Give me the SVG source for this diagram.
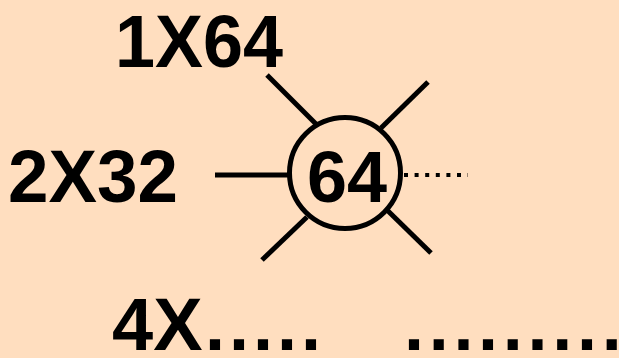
<svg xmlns="http://www.w3.org/2000/svg" width="619" height="358" viewBox="0 0 619 358">
<style>
.t{font-family:"Liberation Sans",Arial,sans-serif;font-weight:bold;font-size:72px;fill:#000}
.ln{stroke:#000;stroke-width:5;fill:none}
</style>
<rect width="619" height="358" fill="#FFDEBF"/>
<g id="connectors">
<line class="ln" x1="267" y1="75" x2="316" y2="124"/>
<line class="ln" x1="428" y1="82" x2="381" y2="128"/>
<line class="ln" x1="215" y1="175" x2="289" y2="175"/>
<line class="ln" x1="262" y1="260" x2="307" y2="217"/>
<line class="ln" x1="431" y1="253" x2="387" y2="210"/>
<line x1="404" y1="175" x2="468" y2="175" stroke="#000" stroke-width="4" stroke-dasharray="4 6.6"/>
</g>
<g id="node64">
<circle cx="345" cy="173" r="55.5" fill="none" stroke="#000" stroke-width="5"/>
<text class="t" x="347" y="202" text-anchor="middle" font-size="74">64</text>
</g>
<g id="label1x64"><text class="t" x="115" y="67" textLength="168" lengthAdjust="spacingAndGlyphs" style="font-size:74px">1X64</text></g>
<g id="label2x32"><text class="t" x="8" y="202" textLength="170" lengthAdjust="spacingAndGlyphs" style="font-size:74px">2X32</text></g>
<g id="label4x"><text class="t" x="112" y="350" style="font-size:74px">4X</text>
<text class="t" x="205" y="350" letter-spacing="4">.....</text>
<text class="t" x="404" y="350" letter-spacing="4.7">.........</text></g>
</svg>
